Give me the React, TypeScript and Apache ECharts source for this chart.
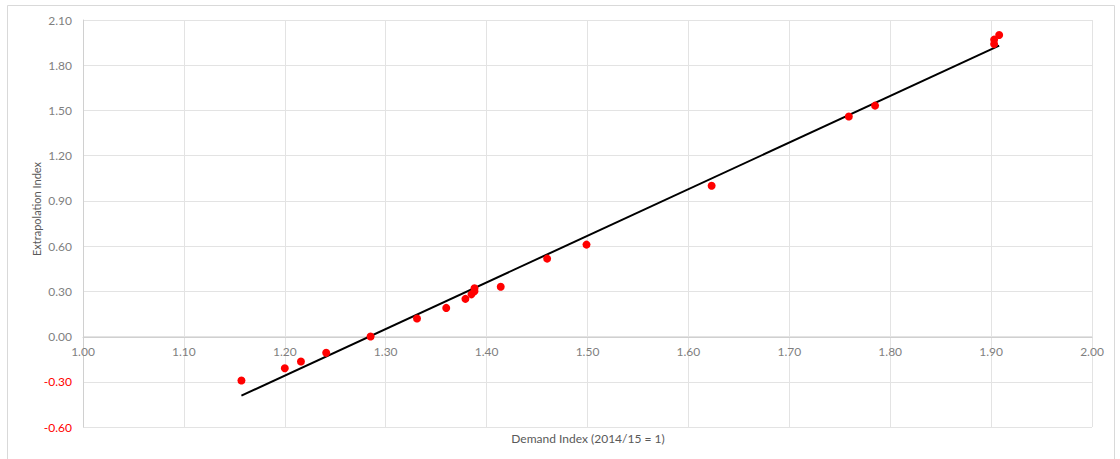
import React, { useEffect, useRef } from "react";
import * as echarts from "echarts";

const demandIndex = [
  1.157, 1.2, 1.216, 1.241, 1.285, 1.331, 1.36, 1.379, 1.385, 1.388, 1.388,
  1.414, 1.46, 1.499, 1.623, 1.759, 1.785, 1.903, 1.903, 1.908,
];
const extrapolationIndex = [
  -0.292, -0.21, -0.165, -0.108, 0.0, 0.12, 0.19, 0.25, 0.28, 0.3, 0.32, 0.33,
  0.517, 0.61, 1.0, 1.46, 1.532, 1.97, 1.94, 2.0,
];
const trendX = [1.157, 1.908];
const trendY = [-0.392, 1.93];

const xTitle = "Demand Index (2014/15 = 1)";
const yTitle = "Extrapolation Index";

export default function App() {
  const ref = useRef<HTMLDivElement>(null);
  useEffect(() => {
    if (!ref.current) return;
    const chart = echarts.init(ref.current, undefined, { renderer: "svg" });
    const font = "Lato, 'Open Sans', sans-serif";
    chart.setOption({
      animation: false,
      backgroundColor: "#ffffff",
      textStyle: { fontFamily: font },
      grid: { left: 83, right: 28, top: 20, bottom: 32, containLabel: false },
      xAxis: {
        type: "value",
        min: 1,
        max: 2,
        interval: 0.1,
        offset: -90,
        axisLine: { onZero: false, lineStyle: { color: "#d0d0d0", width: 1 } },
        axisTick: { show: false },
        axisLabel: {
          color: "#7f7f7f",
          fontSize: 12,
          fontFamily: font,
          margin: 8,
          formatter: (v: number) => v.toFixed(2),
        },
        splitLine: { show: true, lineStyle: { color: "#e3e3e3", width: 1 } },
      },
      yAxis: {
        type: "value",
        min: -0.6,
        max: 2.1,
        interval: 0.3,
        axisLine: { show: true, onZero: false, lineStyle: { color: "#d0d0d0", width: 1 } },
        axisTick: { show: false },
        axisLabel: {
          fontSize: 12,
          fontFamily: font,
          margin: 11,
          formatter: (v: number) => {
            const s = v.toFixed(2);
            return v < -0.0001 ? "{neg|" + s + "}" : "{pos|" + s + "}";
          },
          rich: {
            pos: { color: "#7f7f7f", fontSize: 12, fontFamily: font },
            neg: { color: "#ff0000", fontSize: 12, fontFamily: font },
          },
        },
        splitLine: { show: true, lineStyle: { color: "#e3e3e3", width: 1 } },
      },
      graphic: [
        {
          type: "rect",
          shape: { x: 7.5, y: 5.5, width: 1107, height: 460 },
          style: { fill: "none", stroke: "#d9d9d9", lineWidth: 1 },
          silent: true,
          z: -10,
        },
        {
          type: "text",
          x: 588,
          y: 438,
          style: {
            text: xTitle,
            fill: "#595959",
            font: "12px " + font,
            textAlign: "center",
            textVerticalAlign: "middle",
          },
        },
        {
          type: "text",
          x: 36,
          y: 209,
          rotation: Math.PI / 2,
          style: {
            text: yTitle,
            fill: "#595959",
            font: "11px " + font,
            textAlign: "center",
            textVerticalAlign: "middle",
          },
        },
      ],
      series: [
        {
          type: "line",
          data: trendX.map((x, i) => [x, trendY[i]]),
          showSymbol: false,
          symbol: "none",
          lineStyle: { color: "#000000", width: 2 },
          z: 2,
        },
        {
          type: "scatter",
          data: demandIndex.map((x, i) => [x, extrapolationIndex[i]]),
          symbol: "circle",
          symbolSize: 8,
          itemStyle: { color: "#ff0000", opacity: 1 },
          z: 3,
        },
      ],
    });
    return () => chart.dispose();
  }, []);
  return (
    <div
      ref={ref}
      style={{ position: "fixed", left: 0, top: 0, width: 1120, height: 459 }}
    />
  );
}
